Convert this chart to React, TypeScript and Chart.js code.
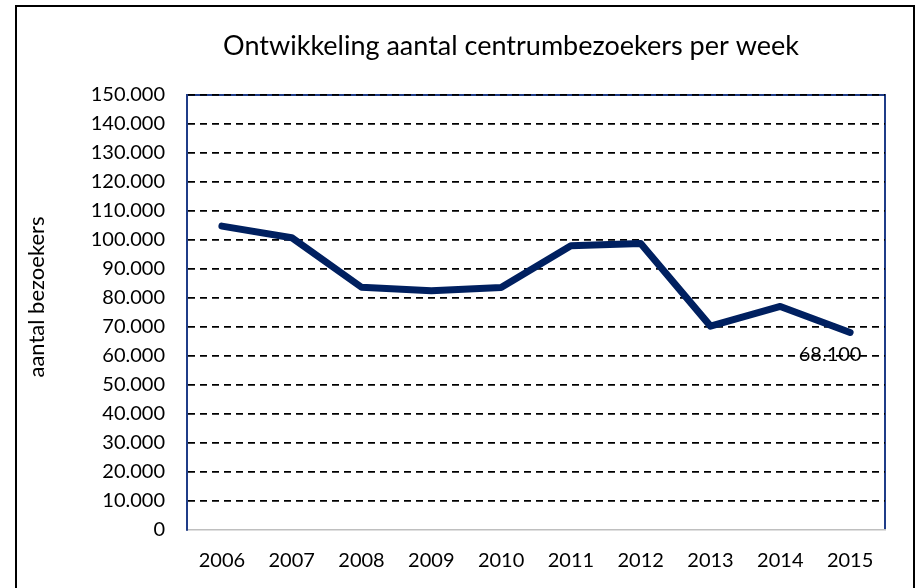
import React, { useEffect, useRef } from "react";
import { Chart, registerables } from "chart.js";

Chart.register(...registerables);

const years = ["2006", "2007", "2008", "2009", "2010", "2011", "2012", "2013", "2014", "2015"];
const visitors = [104800, 100800, 83700, 82500, 83600, 98000, 98800, 70300, 77100, 68100];
const chartTitle = "Ontwikkeling aantal centrumbezoekers per week";
const yAxisTitle = "aantal bezoekers";
const lastLabel = "68.100";
const yMin = 0;
const yMax = 150000;
const yStep = 10000;

const FONT = "Lato, 'Open Sans', sans-serif";
const NAVY = "#002060";
const FRAME = "#1F3C88";

function fmt(v: number): string {
  if (v === 0) return "0";
  const s = String(Math.round(v));
  return s.replace(/\B(?=(\d{3})+(?!\d))/g, ".");
}

const decorPlugin = {
  id: "decor",
  beforeDraw(chart: any) {
    const { ctx, chartArea } = chart;
    ctx.save();
    ctx.strokeStyle = FRAME;
    ctx.lineWidth = 2;
    ctx.beginPath();
    ctx.moveTo(chartArea.left, chartArea.top);
    ctx.lineTo(chartArea.right, chartArea.top);
    ctx.lineTo(chartArea.right, chartArea.bottom);
    ctx.stroke();
    ctx.restore();
  },
  afterDraw(chart: any) {
    const { ctx } = chart;
    ctx.save();
    ctx.fillStyle = "#000";
    ctx.font = `27px ${FONT}`;
    ctx.textAlign = "center";
    ctx.textBaseline = "alphabetic";
    ctx.fillText(chartTitle, 511, 55);

    ctx.translate(37, 297);
    ctx.rotate(-Math.PI / 2);
    ctx.font = `22px ${FONT}`;
    ctx.textAlign = "center";
    ctx.textBaseline = "middle";
    ctx.fillText(yAxisTitle, 0, 0);
    ctx.restore();

    const meta = chart.getDatasetMeta(0);
    const pt = meta.data[meta.data.length - 1];
    if (pt) {
      ctx.save();
      ctx.fillStyle = "#000";
      ctx.font = `20px ${FONT}`;
      ctx.textAlign = "center";
      ctx.textBaseline = "middle";
      ctx.fillText(lastLabel, pt.x - 20, pt.y + 22);
      ctx.restore();
    }
  },
};

export default function App() {
  const ref = useRef<HTMLCanvasElement | null>(null);

  useEffect(() => {
    if (!ref.current) return;
    const chart = new Chart(ref.current, {
      type: "line",
      data: {
        labels: years,
        datasets: [
          {
            data: visitors,
            borderColor: NAVY,
            backgroundColor: NAVY,
            borderWidth: 7,
            pointRadius: 0,
            pointHoverRadius: 0,
            tension: 0,
            borderCapStyle: "round",
            borderJoinStyle: "round",
          },
        ],
      },
      options: {
        responsive: false,
        animation: false,
        events: [],
        layout: { padding: { left: 0, right: 30, top: 95, bottom: 0 } },
        plugins: {
          legend: { display: false },
          title: { display: false },
          tooltip: { enabled: false },
        },
        scales: {
          x: {
            offset: true,
            grid: { display: false, drawTicks: false },
            border: { display: true, color: "#BFBFBF", width: 1.5 },
            ticks: {
              color: "#000",
              font: { family: FONT, size: 20 },
              padding: 19,
              maxRotation: 0,
              autoSkip: false,
            },
            afterFit(scale: any) {
              scale.height = 58;
            },
          },
          y: {
            min: yMin,
            max: yMax,
            grid: {
              drawTicks: false,
              lineWidth: 1.8,
              color: (c: any) => (c.tick && c.tick.value === 0 ? "rgba(0,0,0,0)" : "#000"),
            },
            border: { display: true, color: FRAME, width: 2, dash: [7, 5] },
            ticks: {
              stepSize: yStep,
              color: "#000",
              font: { family: FONT, size: 20 },
              padding: 22,
              callback: (v: any) => fmt(Number(v)),
            },
            afterFit(scale: any) {
              scale.width = 187;
            },
          },
        },
      },
      plugins: [decorPlugin],
    });
    return () => chart.destroy();
  }, []);

  return (
    <div
      style={{
        position: "fixed",
        left: 0,
        top: 0,
        width: 915,
        height: 588,
        overflow: "hidden",
        background: "#fff",
      }}
    >
      <canvas ref={ref} width={915} height={588} style={{ position: "absolute", left: 0, top: 0 }} />
      <div
        style={{
          position: "absolute",
          left: 15,
          top: 5,
          width: 896,
          height: 620,
          border: "2px solid #000",
          pointerEvents: "none",
        }}
      />
    </div>
  );
}
